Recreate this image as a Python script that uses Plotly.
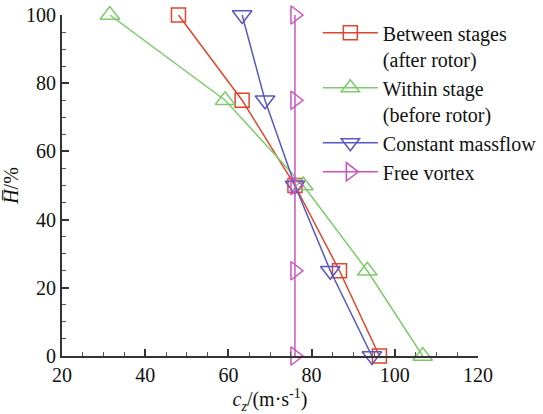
import plotly.graph_objects as go

H = [100, 75, 50, 25, 0]
between_stages = [48, 63.3, 76, 86.7, 96.3]
within_stage = [31.5, 59.2, 78, 93.4, 106.7]
constant_massflow = [63.3, 68.8, 76, 84.5, 94.5]
free_vortex = [76, 76, 76, 76, 76]

names = ["Between stages<br>(after rotor)", "Within stage<br>(before rotor)",
         "Constant massflow", "Free vortex"]
colors = ["#e0452b", "#7dcc6c", "#5858c4", "#cc55bb"]
symbols = ["square-open", "triangle-up-open", "triangle-down-open", "triangle-right-open"]
sizes = [14, 17, 17, 16]
series = [between_stages, within_stage, constant_massflow, free_vortex]

fig = go.Figure()
for name, c, s, sz, xs in zip(names, colors, symbols, sizes, series):
    fig.add_trace(go.Scatter(
        x=xs, y=H, name=name, mode="lines+markers",
        line=dict(color=c, width=1.5),
        marker=dict(symbol=s, size=sz, color=c, line=dict(width=1.5, color=c)),
        cliponaxis=False,
    ))

font = "Liberation Serif, Times New Roman, serif"
axis_common = dict(
    showline=True, linecolor="#333", linewidth=2, mirror=False,
    ticks="inside", ticklen=7, tickwidth=2, tickcolor="#333",
    showgrid=False, zeroline=False,
    tickfont=dict(family=font, size=20, color="#111"),
    minor=dict(ticks="inside", ticklen=4, tickwidth=1, tickcolor="#555", dtick=5),
)
fig.update_xaxes(range=[20, 120], dtick=20, **axis_common,
                 title=dict(text="<i>c<sub>z</sub></i>/(m·s<sup>-1</sup>)",
                            font=dict(family=font, size=20, color="#111"), standoff=0))
fig.update_yaxes(range=[0, 100], dtick=20, **axis_common,
                 title=dict(text="<i>H\u0305</i>/%",
                            font=dict(family=font, size=20, color="#111"), standoff=2))

fig.update_layout(
    width=543, height=414,
    margin=dict(l=62, r=65, t=15, b=58, autoexpand=False),
    plot_bgcolor="white", paper_bgcolor="white",
    legend=dict(x=0.615, y=1.005, xanchor="left", yanchor="top", valign="top",
                bgcolor="rgba(0,0,0,0)", itemwidth=55,
                font=dict(family=font, size=20, color="#111")),
)
fig.write_html("out.html")
